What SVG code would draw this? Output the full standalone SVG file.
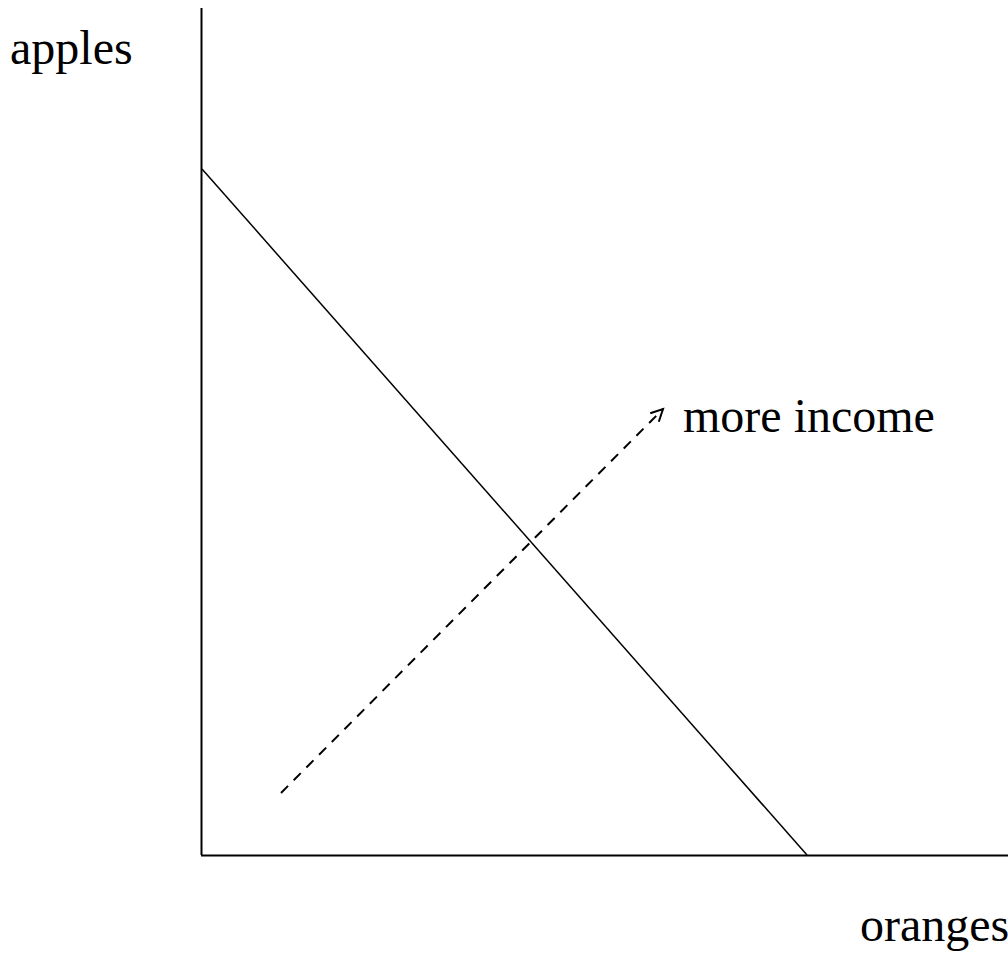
<svg xmlns="http://www.w3.org/2000/svg" width="1008" height="953" viewBox="0 0 1008 953">
<style>
.ax{stroke:#000;stroke-width:2;fill:none}
.ln{stroke:#000;stroke-width:1.5;fill:none}
.dash{stroke:#000;stroke-width:2;fill:none;stroke-dasharray:10,8}
.lbl{font-family:"Liberation Serif","Times New Roman",serif;font-size:48px;fill:#000}
</style>
<defs>
<marker id="open" markerWidth="16" markerHeight="16" refX="13" refY="7" orient="auto" markerUnits="userSpaceOnUse">
<path d="M1,1 L13,7 L1,13" fill="none" stroke="#000" stroke-width="2"/>
</marker>
</defs>
<rect width="1008" height="953" fill="#fff"/>
<g id="axes">
<line class="ax" x1="201.5" y1="8" x2="201.5" y2="855"/>
<line class="ax" x1="201" y1="855.5" x2="1008" y2="855.5"/>
</g>
<g id="budget-line">
<line class="ln" x1="202" y1="169" x2="807" y2="855"/>
</g>
<g id="connectors">
<line class="dash" x1="281" y1="793" x2="663" y2="409" marker-end="url(#open)"/>
</g>
<g id="labels">
<text class="lbl" x="10" y="64">apples</text>
<text class="lbl" x="683" y="432">more income</text>
<text class="lbl" x="860" y="941">oranges</text>
</g>
</svg>
